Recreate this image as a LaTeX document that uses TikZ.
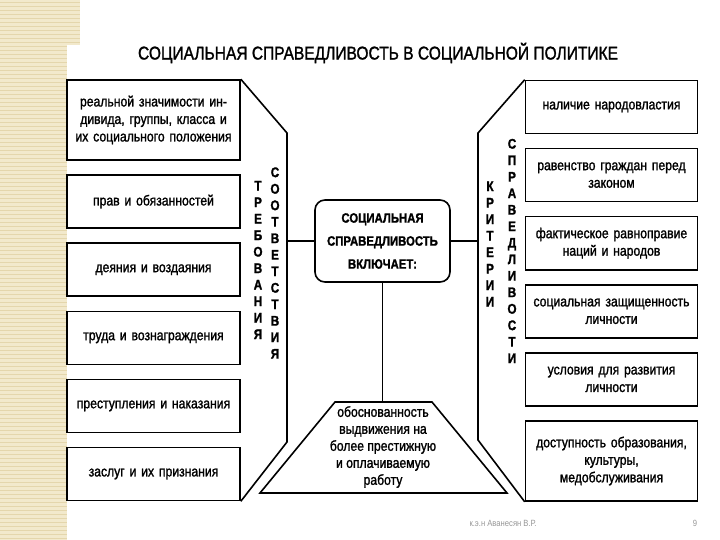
\documentclass[tikz,border=0pt]{standalone}
\usepackage{fontspec}
\setmainfont[FakeStretch=0.85]{Liberation Sans}
\newfontfamily\scanfont[FakeStretch=0.84, FakeBold=1.4]{Liberation Sans}
\usetikzlibrary{positioning}
\definecolor{stripbeige}{RGB}{242,233,204}
\definecolor{stripline}{RGB}{228,214,172}
\definecolor{footgray}{RGB}{150,150,150}

\begin{document}
\begin{tikzpicture}[x=1pt, y=-1pt,
    node distance=13.5pt,
    item/.style={rectangle, draw=black, line width=1.6pt, minimum width=173pt, minimum height=53pt, text width=170pt, align=center, inner sep=1pt, font=\scanfont\fontsize{14.5}{17.5}\selectfont},
    edge/.style={line width=1.6pt, draw=black},
    letters/.style={align=center, font=\scanfont\fontsize{14}{16.5}\selectfont\bfseries, inner sep=0pt}
]
    \useasboundingbox (0,0) rectangle (720,540);
    % Slide strip
    \fill[stripbeige] (0,0) rectangle (80,45);
    \fill[stripbeige] (0,45) rectangle (67,540);
    \foreach \yy in {2,6,...,42} {
        \draw[stripline, line width=0.6pt] (0,\yy) -- (80,\yy);
    }
    \foreach \yy in {46,50,...,538} {
        \draw[stripline, line width=0.6pt] (0,\yy) -- (67,\yy);
    }

    % Title
    \node[font=\scanfont\fontsize{18.5}{22}\selectfont] (title) at (378,53) {СОЦИАЛЬНАЯ СПРАВЕДЛИВОСТЬ В СОЦИАЛЬНОЙ ПОЛИТИКЕ};

    % Requirements (left)
    \node[item, minimum height=80pt] (req1) at (153.5,120) {реальной значимости ин-\\дивида, группы, класса и\\их социального положения};
    \node[item, below=of req1] (req2) {прав и обязанностей};
    \node[item, below=of req2] (req3) {деяния и воздаяния};
    \node[item, below=of req3] (req4) {труда и вознаграждения};
    \node[item, below=of req4] (req5) {преступления и наказания};
    \node[item, below=of req5] (req6) {заслуг и их признания};

    % Criteria (right)
    \node[item, minimum width=171pt] (crit1) at (611.5,107) {наличие народовластия};
    \node[item, minimum width=171pt, below=of crit1] (crit2) {равенство граждан перед\\законом};
    \node[item, minimum width=171pt, below=of crit2] (crit3) {фактическое равноправие\\наций и народов};
    \node[item, minimum width=171pt, below=of crit3] (crit4) {социальная защищенность\\личности};
    \node[item, minimum width=171pt, below=of crit4] (crit5) {условия для развития\\личности};
    \node[item, minimum width=171pt, minimum height=80pt, below=of crit5] (crit6) {доступность образования,\\культуры,\\медобслуживания};

    % Centre
    \node[draw, line width=1.6pt, rounded corners=10pt, minimum width=135pt, minimum height=82pt, align=center, font=\scanfont\fontsize{13.5}{23}\selectfont\bfseries] (core) at (382.5,241) {СОЦИАЛЬНАЯ\\СПРАВЕДЛИВОСТЬ\\ВКЛЮЧАЕТ:};

    % Brackets
    \coordinate (lb1) at (287,133);
    \coordinate (lb2) at (287,442);
    \coordinate (rb1) at (478,133);
    \coordinate (rb2) at (478,440);
    \draw[edge] (req1.north east) -- (lb1) -- (lb2) -- (req6.south east);
    \draw[edge] (crit1.north west) -- (rb1) -- (rb2) -- (crit6.south west);

    \node[letters] (treb) at (258,260) {Т\\Р\\Е\\Б\\О\\В\\А\\Н\\И\\Я};
    \node[letters] (soot) at (275,263) {С\\О\\О\\Т\\В\\Е\\Т\\С\\Т\\В\\И\\Я};
    \node[letters] (krit) at (490,244) {К\\Р\\И\\Т\\Е\\Р\\И\\И};
    \node[letters] (sprav) at (512,251) {С\\П\\Р\\А\\В\\Е\\Д\\Л\\И\\В\\О\\С\\Т\\И};

    % Promotion trapezoid
    \coordinate (tp1) at (260,493);
    \coordinate (tp2) at (335,402);
    \coordinate (tp3) at (432,402);
    \coordinate (tp4) at (507,493);
    \draw[edge] (tp1) -- (tp2) -- (tp3) -- (tp4) -- cycle;
    \node[align=center, font=\scanfont\fontsize{14.5}{17}\selectfont] (promo) at (383,447) {обоснованность\\выдвижения на\\более престижную\\и оплачиваемую\\работу};

    % Links
    \draw[edge] (core.west) -- (core.west -| lb1);
    \draw[edge] (core.east) -- (core.east -| rb1);
    \draw[edge] (core.south) -- (core.south |- tp2);

    % Footer
    \node[text=footgray, font=\fontsize{9}{11}\selectfont] (author) at (503,523) {к.э.н Аванесян В.Р.};
    \node[text=footgray, font=\fontsize{9}{11}\selectfont] (page) at (695,523) {9};
\end{tikzpicture}
\end{document}
